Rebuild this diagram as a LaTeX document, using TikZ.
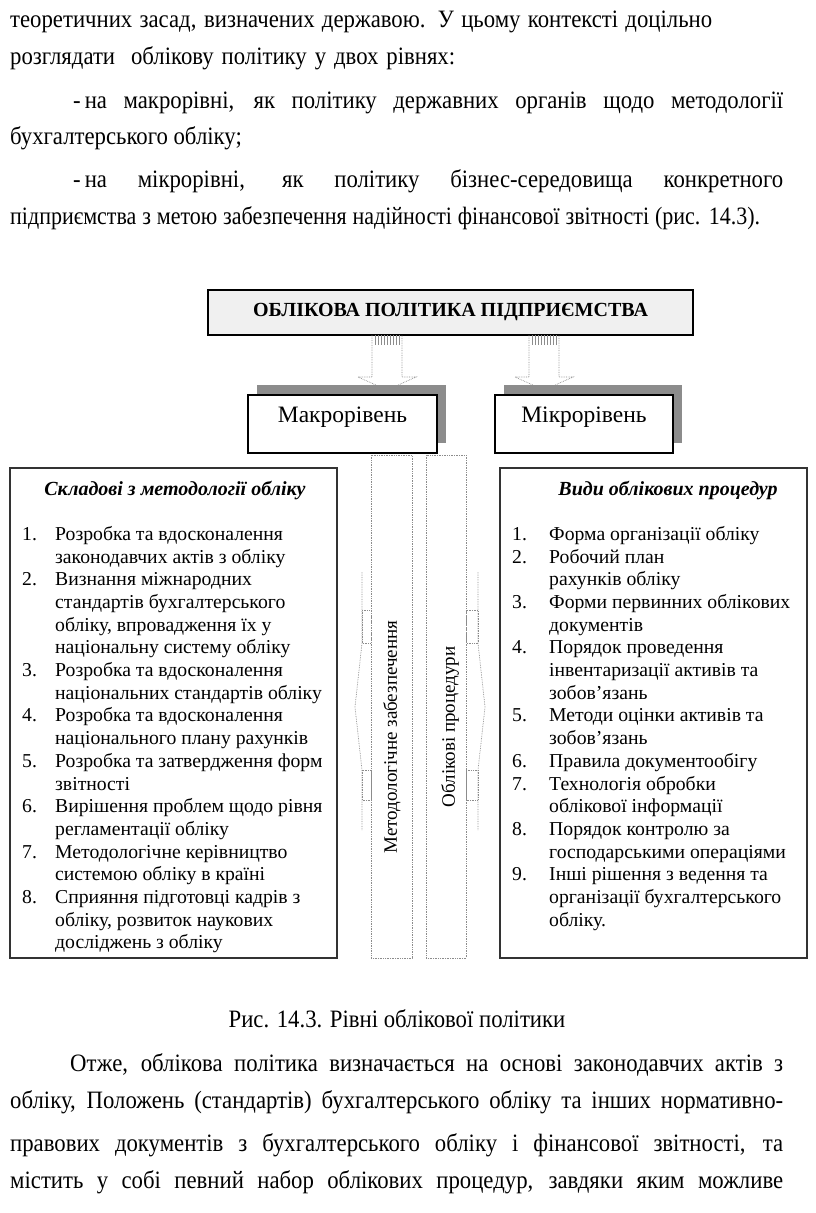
\documentclass[tikz,border=0pt]{standalone}
\usepackage{fontspec}
\setmainfont{Liberation Serif}
\newfontfamily\bodyfont[FakeStretch=0.91]{Liberation Serif}
\newfontfamily\bodynarrow[FakeStretch=0.88]{Liberation Serif}
\usepackage{xcolor}
\usetikzlibrary{shadows}

\definecolor{shadowgray}{gray}{0.55}
\definecolor{dotgray}{gray}{0.55}

\tikzset{
  bodyline/.style={anchor=base west, inner sep=0pt, font=\bodyfont\fontsize{25}{29}\selectfont},
  levelbox/.style={draw, line width=1.3pt, fill=white, minimum height=58pt,
    text depth=18pt, font=\fontsize{23.5}{27}\selectfont,
    drop shadow={shadow xshift=9pt, shadow yshift=10pt, opacity=1, fill=shadowgray}},
  listbox/.style={draw=black!80, line width=1.3pt, minimum height=490pt},
  listtext/.style={anchor=north west, inner sep=0pt, align=left, font=\fontsize{19.7}{22.7}\selectfont},
  listhead/.style={inner sep=0pt, font=\bfseries\itshape\fontsize{20}{22.7}\selectfont},
  blockarrow/.style={dotgray, densely dotted, line width=0.7pt},
  stripline/.style={dotgray, densely dotted, line width=0.7pt},
  striptext/.style={inner sep=0pt, font=\fontsize{19}{22.7}\selectfont}
}

\begin{document}
\begin{tikzpicture}[x=1pt, y=-1pt]
  \useasboundingbox (0,0) rectangle (816,1213);
  \fill[white] (0,0) rectangle (816,1213);

  % Text before the figure.
  \node[bodyline] (p1) at (10,27) {\makebox[702pt][s]{теоретичних засад, визначених державою. У цьому контексті доцільно}};
  \node[bodyline] (p2) at (10,64) {\makebox[445pt][s]{розглядати\ \ облікову політику у двох рівнях:}};
  \node[bodyline] (p3) at (73,108) {\makebox[710pt][s]{-\kern4pt на макрорівні, як політику державних органів щодо методології}};
  \node[bodyline] (p4) at (10,144) {бухгалтерського обліку;};
  \node[bodyline] (p5) at (73,187) {\makebox[710pt][s]{-\kern4pt на мікрорівні, як політику бізнес-середовища конкретного}};
  \node[bodyline, font=\bodynarrow\fontsize{25}{29}\selectfont] (p6) at (10,224)
    {\makebox[750pt][s]{підприємства з метою забезпечення надійності фінансової звітності (рис. 14.3).}};

  % Top box.
  \node[draw, line width=1.6pt, fill=black!6, minimum width=485pt, minimum height=45pt,
    font=\bfseries\fontsize{20}{23}\selectfont] (policy) at (450.5,312.5)
    {ОБЛІКОВА ПОЛІТИКА ПІДПРИЄМСТВА};

  % Block arrows down to the two levels.
  \coordinate (la) at (387,335);
  \coordinate (ra) at (544,335);
  \foreach \c in {la,ra}{
    \draw[blockarrow] ([xshift=-15pt]\c) -- ++(0,42) -- ++(-14,0) -- ++(29,13)
      -- ++(29,-13) -- ++(-14,0) -- ++(0,-42);
    \foreach \i in {-12,-9,...,12}
      \draw[dotgray, line width=0.5pt] ([xshift=\i pt]\c) -- ++(0,10);
  }

  % Level boxes.
  \node[levelbox, minimum width=189pt] (macro) at (342.5,424) {Макрорівень};
  \node[levelbox, minimum width=178pt] (micro) at (584,424) {Мікрорівень};

  % Central strips.
  \draw[stripline] (371,455) rectangle (412,958);
  \draw[stripline] (426,455) rectangle (466,958);
  \draw[stripline] (362,572) -- (362,643) -- (355,707) -- (362,770) -- (362,830);
  \draw[stripline] (362,610) rectangle (371,643);
  \draw[stripline] (362,770) rectangle (371,800);
  \draw[stripline] (478,572) -- (478,643) -- (485,707) -- (478,770) -- (478,830);
  \draw[stripline] (466,610) rectangle (478,643);
  \draw[stripline] (466,770) rectangle (478,800);
  \node[striptext, rotate=90] (metod) at (392,737) {Методологічне забезпечення};
  \node[striptext, rotate=90] (procs) at (450,727) {Облікові процедури};

  % Left list.
  \node[listbox, minimum width=327pt] (leftbox) at (173.5,713) {};
  \node[listhead] (lefthead) at (175,490) {Складові з методології обліку};
  \node[listtext] (leftlist) at (22,526) {%
    \makebox[33pt][l]{1.}Розробка та вдосконалення\\
    \hspace*{33pt}законодавчих актів з обліку\\
    \makebox[33pt][l]{2.}Визнання міжнародних\\
    \hspace*{33pt}стандартів бухгалтерського\\
    \hspace*{33pt}обліку, впровадження їх у\\
    \hspace*{33pt}національну систему обліку\\
    \makebox[33pt][l]{3.}Розробка та вдосконалення\\
    \hspace*{33pt}національних стандартів обліку\\
    \makebox[33pt][l]{4.}Розробка та вдосконалення\\
    \hspace*{33pt}національного плану рахунків\\
    \makebox[33pt][l]{5.}Розробка та затвердження форм\\
    \hspace*{33pt}звітності\\
    \makebox[33pt][l]{6.}Вирішення проблем щодо рівня\\
    \hspace*{33pt}регламентації обліку\\
    \makebox[33pt][l]{7.}Методологічне керівництво\\
    \hspace*{33pt}системою обліку в країні\\
    \makebox[33pt][l]{8.}Сприяння підготовці кадрів з\\
    \hspace*{33pt}обліку, розвиток наукових\\
    \hspace*{33pt}досліджень з обліку};

  % Right list.
  \node[listbox, minimum width=307pt] (rightbox) at (653.5,713) {};
  \node[listhead] (righthead) at (668,490) {Види облікових процедур};
  \node[listtext] (rightlist) at (512,526) {%
    \makebox[37pt][l]{1.}Форма організації обліку\\
    \makebox[37pt][l]{2.}Робочий план\\
    \hspace*{37pt}рахунків обліку\\
    \makebox[37pt][l]{3.}Форми первинних облікових\\
    \hspace*{37pt}документів\\
    \makebox[37pt][l]{4.}Порядок проведення\\
    \hspace*{37pt}інвентаризації активів та\\
    \hspace*{37pt}зобов’язань\\
    \makebox[37pt][l]{5.}Методи оцінки активів та\\
    \hspace*{37pt}зобов’язань\\
    \makebox[37pt][l]{6.}Правила документообігу\\
    \makebox[37pt][l]{7.}Технологія обробки\\
    \hspace*{37pt}облікової інформації\\
    \makebox[37pt][l]{8.}Порядок контролю за\\
    \hspace*{37pt}господарськими операціями\\
    \makebox[37pt][l]{9.}Інші рішення з ведення та\\
    \hspace*{37pt}організації бухгалтерського\\
    \hspace*{37pt}обліку.};

  % Caption and text after the figure.
  \node[bodyline, anchor=base] (caption) at (397,1027) {Рис. 14.3. Рівні облікової політики};
  \node[bodyline] (p7) at (70,1071) {\makebox[713pt][s]{Отже, облікова політика визначається на основі законодавчих актів з}};
  \node[bodyline] (p8) at (10,1108) {\makebox[773pt][s]{обліку, Положень (стандартів) бухгалтерського обліку та інших нормативно-}};
  \node[bodyline] (p9) at (10,1151) {\makebox[773pt][s]{правових документів з бухгалтерського обліку і фінансової звітності, та}};
  \node[bodyline] (p10) at (10,1188) {\makebox[773pt][s]{містить у собі певний набор облікових процедур, завдяки яким можливе}};
\end{tikzpicture}
\end{document}
